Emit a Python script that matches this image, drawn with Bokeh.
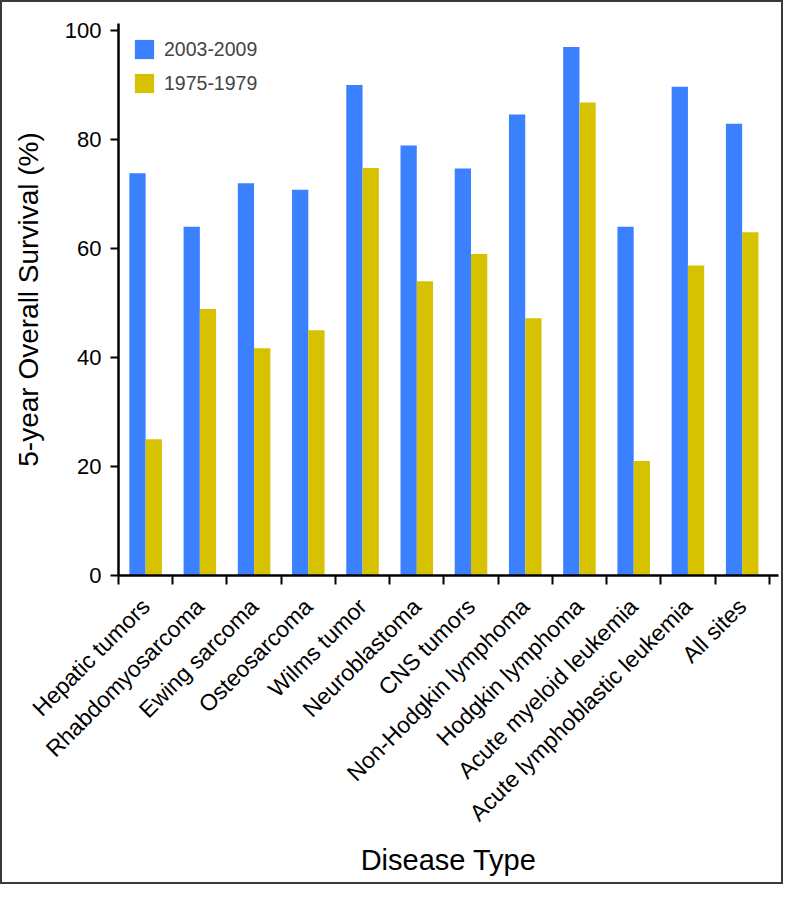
import math
from bokeh.plotting import figure
from bokeh.layouts import column
from bokeh.models import Range1d, FixedTicker, Legend, LegendItem, ColumnDataSource
from bokeh.embed import file_html
from bokeh.resources import INLINE

diseases = [
    "Hepatic tumors", "Rhabdomyosarcoma", "Ewing sarcoma", "Osteosarcoma",
    "Wilms tumor", "Neuroblastoma", "CNS tumors", "Non-Hodgkin lymphoma",
    "Hodgkin lymphoma", "Acute myeloid leukemia", "Acute lymphoblastic leukemia",
    "All sites",
]
surv_2003_2009 = [73.8, 64, 72, 70.8, 90, 78.9, 74.7, 84.6, 97, 64, 89.7, 82.9]
surv_1975_1979 = [25, 48.9, 41.7, 45, 74.8, 54, 59, 47.2, 86.8, 21, 56.9, 63]
y_ticks = [0, 20, 40, 60, 80, 100]
series_names = ["2003-2009", "1975-1979"]
series_colors = ["#3B80FF", "#D6C200"]

n = len(diseases)
centers = [i + 0.5 for i in range(n)]
bounds = [i for i in range(n + 1)]

src = ColumnDataSource(dict(
    x_new=[c - 0.15 for c in centers],
    x_old=[c + 0.15 for c in centers],
    new=surv_2003_2009,
    old=surv_1975_1979,
))

FONT = "Liberation Sans"

p = figure(
    width=779, height=880,
    x_range=Range1d(0, 12.17), y_range=Range1d(0, 101.3),
    output_backend="svg", toolbar_location=None,
    min_border_left=116, min_border_top=21, min_border_right=3, min_border_bottom=307,
)
p.grid.visible = False
p.outline_line_color = None
p.background_fill_color = "white"
p.border_fill_color = "white"

r_new = p.vbar(x="x_new", top="new", width=0.3, bottom=0, source=src,
               fill_color=series_colors[0], line_color=None)
r_old = p.vbar(x="x_old", top="old", width=0.3, bottom=0, source=src,
               fill_color=series_colors[1], line_color=None)

# x axis
xa = p.xaxis[0]
xa.ticker = FixedTicker(ticks=centers, minor_ticks=bounds)
xa.major_label_overrides = {c: d for c, d in zip(centers, diseases)}
xa.major_label_orientation = math.pi / 4
xa.major_tick_out = 0
xa.major_tick_in = 0
xa.minor_tick_out = 9
xa.minor_tick_in = 0
xa.minor_tick_line_width = 2
xa.minor_tick_line_color = "black"
xa.axis_line_width = 2.5
xa.axis_line_color = "black"
xa.major_label_standoff = 18
xa.major_label_text_font = FONT
xa.major_label_text_font_size = "23px"
xa.major_label_text_color = "black"
xa.axis_label = "Disease Type"
xa.axis_label_text_font = FONT
xa.axis_label_text_font_style = "normal"
xa.axis_label_text_font_size = "29px"
xa.axis_label_text_color = "black"
xa.axis_label_standoff = 6

# y axis
ya = p.yaxis[0]
ya.ticker = FixedTicker(ticks=y_ticks, minor_ticks=[])
ya.major_tick_out = 8
ya.major_tick_in = 0
ya.major_tick_line_width = 2
ya.major_tick_line_color = "black"
ya.axis_line_width = 2.5
ya.axis_line_color = "black"
ya.major_label_standoff = 9
ya.major_label_text_font = FONT
ya.major_label_text_font_size = "22px"
ya.major_label_text_color = "black"
ya.axis_label = "5-year Overall Survival (%)"
ya.axis_label_text_font = FONT
ya.axis_label_text_font_style = "normal"
ya.axis_label_text_font_size = "28px"
ya.axis_label_text_color = "black"
ya.axis_label_standoff = 18

legend = Legend(
    items=[LegendItem(label=series_names[0], renderers=[r_new]),
           LegendItem(label=series_names[1], renderers=[r_old])],
    location="top_left",
    margin=14, padding=0,
    glyph_width=24, glyph_height=24, label_height=24,
    spacing=10, label_standoff=8,
    label_text_font=FONT, label_text_font_size="19.5px",
    border_line_color=None, background_fill_alpha=0,
)
p.add_layout(legend)

layout = column(p, styles={"border": "2px solid #3a3a3a"})

open("out.html", "w").write(file_html(layout, INLINE))
